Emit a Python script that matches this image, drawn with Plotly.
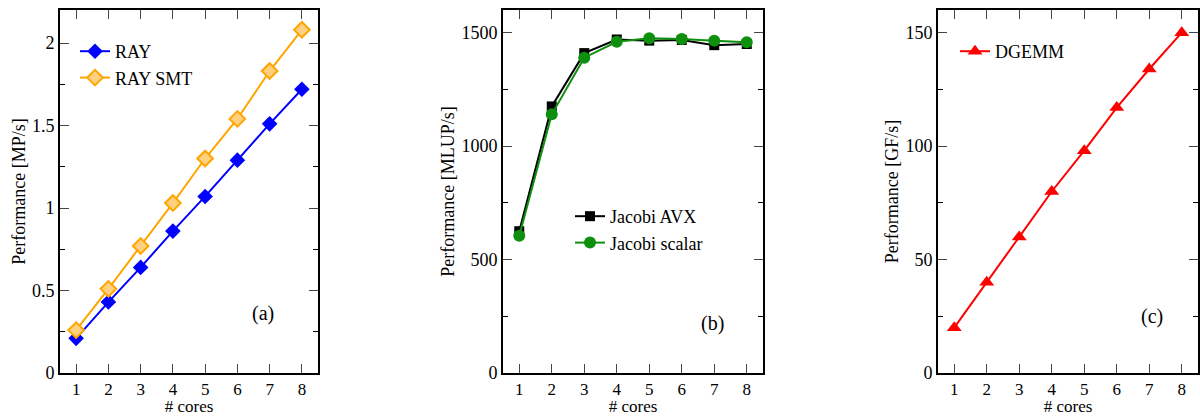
import plotly.graph_objects as go

cores = [1, 2, 3, 4, 5, 6, 7, 8]
ray = [0.21, 0.43, 0.64, 0.86, 1.07, 1.29, 1.51, 1.72]
ray_smt = [0.26, 0.51, 0.77, 1.03, 1.30, 1.54, 1.83, 2.08]
jacobi_avx = [625, 1175, 1410, 1470, 1465, 1468, 1445, 1450]
jacobi_scalar = [605, 1140, 1390, 1460, 1475, 1472, 1465, 1458]
dgemm = [20, 40, 60, 80, 98, 117, 134, 150]

FONT = "Liberation Serif, Times New Roman, serif"
W, H = 1200, 416


def px_x(x):
    return x / W


def px_y(y):
    return 1 - y / H


fig = go.Figure()

fig.add_trace(go.Scatter(x=cores, y=ray, name="RAY", mode="lines+markers",
                         line=dict(color="#0000FF", width=2),
                         marker=dict(symbol="diamond", size=12, color="#0000FF"),
                         xaxis="x", yaxis="y", legend="legend"))
fig.add_trace(go.Scatter(x=cores, y=ray_smt, name="RAY SMT", mode="lines+markers",
                         line=dict(color="#FFA500", width=2),
                         marker=dict(symbol="diamond", size=12, color="#FFD080",
                                     line=dict(color="#FFA500", width=2)),
                         xaxis="x", yaxis="y", legend="legend"))
fig.add_trace(go.Scatter(x=cores, y=jacobi_avx, name="Jacobi AVX", mode="lines+markers",
                         line=dict(color="#000000", width=2),
                         marker=dict(symbol="square", size=10, color="#000000"),
                         xaxis="x2", yaxis="y2", legend="legend2"))
fig.add_trace(go.Scatter(x=cores, y=jacobi_scalar, name="Jacobi scalar", mode="lines+markers",
                         line=dict(color="#0E8F0E", width=2),
                         marker=dict(symbol="circle", size=12, color="#0E8F0E"),
                         xaxis="x2", yaxis="y2", legend="legend2"))
fig.add_trace(go.Scatter(x=cores, y=dgemm, name="DGEMM", mode="lines+markers",
                         line=dict(color="#FF0000", width=2),
                         marker=dict(symbol="triangle-up", size=13, color="#FF0000"),
                         xaxis="x3", yaxis="y3", legend="legend3"))

ydom = [px_y(373), px_y(10)]
xdoms = [[px_x(60), px_x(318)], [px_x(503), px_x(763)], [px_x(938), px_x(1198)]]


def xax(dom, anchor):
    return dict(domain=dom, anchor=anchor, range=[0.5, 8.5], tickmode="array",
                tickvals=cores, ticks="inside", ticklen=9, tickwidth=1.2,
                showline=True, linewidth=2, linecolor="black", mirror="ticks",
                showgrid=False, zeroline=False, automargin=False,
                tickfont=dict(family=FONT, size=17, color="black"),
                title=dict(text="# cores", font=dict(family=FONT, size=17, color="black"),
                           standoff=4))


def yax(anchor, rng, dtick, mdtick, title):
    return dict(domain=ydom, anchor=anchor, range=rng, dtick=dtick, tick0=0,
                ticks="inside", ticklen=9, tickwidth=1.2,
                minor=dict(ticks="inside", ticklen=5, dtick=mdtick, tick0=0,
                           tickcolor="black", tickwidth=1.2),
                showline=True, linewidth=2, linecolor="black", mirror="ticks",
                showgrid=False, zeroline=False, automargin=False,
                tickfont=dict(family=FONT, size=18, color="black"),
                title=dict(text=title, font=dict(family=FONT, size=18, color="black"),
                           standoff=2))


leg_common = dict(font=dict(family=FONT, size=18, color="black"), bgcolor="rgba(0,0,0,0)",
                  borderwidth=0, tracegroupgap=0, itemwidth=30,
                  xanchor="left", yanchor="top")

fig.update_layout(
    width=W, height=H,
    margin=dict(l=0, r=0, t=0, b=0),
    paper_bgcolor="white", plot_bgcolor="white",
    xaxis=xax(xdoms[0], "y"),
    yaxis=yax("x", [0, 2.2], 0.5, 0.25, "Performance [MP/s]"),
    xaxis2=xax(xdoms[1], "y2"),
    yaxis2=yax("x2", [0, 1600], 500, 250, "Performance [MLUP/s]"),
    xaxis3=xax(xdoms[2], "y3"),
    yaxis3=yax("x3", [0, 160], 50, 25, "Performance [GF/s]"),
    legend=dict(x=px_x(75), y=px_y(33), **leg_common),
    legend2=dict(x=px_x(570), y=px_y(198), **leg_common),
    legend3=dict(x=px_x(955), y=px_y(33), **leg_common),
    annotations=[
        dict(text="(a)", x=6.78, y=0.36, xref="x", yref="y", showarrow=False,
             font=dict(family=FONT, size=20, color="black")),
        dict(text="(b)", x=6.96, y=220, xref="x2", yref="y2", showarrow=False,
             font=dict(family=FONT, size=20, color="black")),
        dict(text="(c)", x=7.07, y=24.8, xref="x3", yref="y3", showarrow=False,
             font=dict(family=FONT, size=20, color="black")),
    ],
)

fig.write_html("out.html", config={"displayModeBar": False},
               post_script="document.body.style.margin='0';document.body.style.overflow='hidden';")
